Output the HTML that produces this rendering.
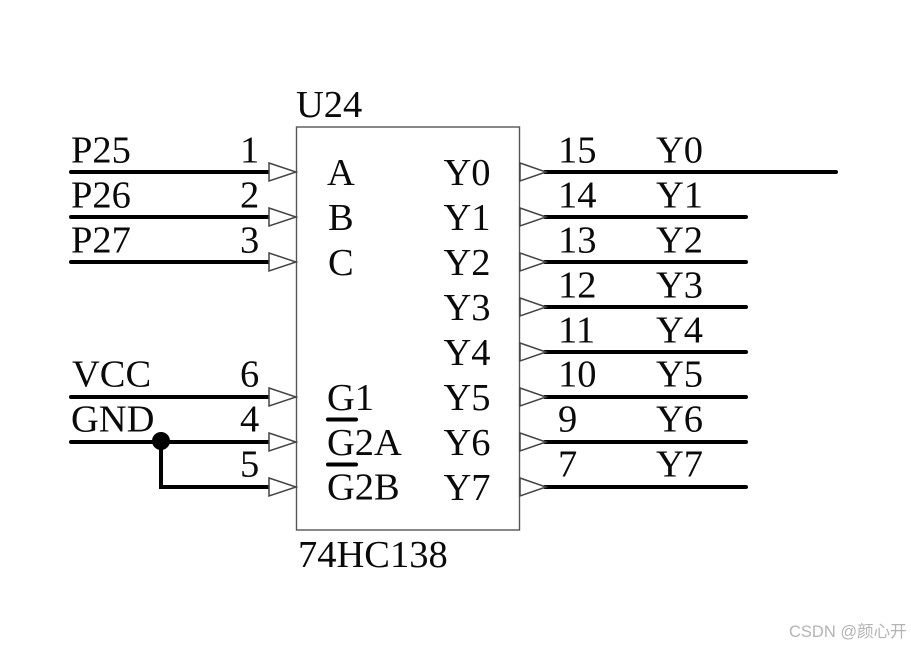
<!DOCTYPE html>
<html>
<head>
<meta charset="utf-8">
<style>
html,body{margin:0;padding:0;background:#fff;width:911px;height:647px;overflow:hidden}
svg{display:block}
text{font-family:"Liberation Serif",serif;font-size:38.5px;fill:#0a0a0a}
.w{stroke:#000;stroke-width:4;stroke-linecap:round;fill:none}
.t{fill:#fff;stroke:#444;stroke-width:1.5}
</style>
</head>
<body>
<svg width="911" height="647" viewBox="0 0 911 647" xmlns="http://www.w3.org/2000/svg">
<rect x="296.500" y="127" width="223" height="403" fill="#fff" stroke="#555" stroke-width="1.400"/>

<path class="w" d="M71 172H269M71 217H269M71 262H269M71 397H269M71 442H269M161 442V487H269"/>
<circle cx="161" cy="441" r="9" fill="#000"/>
<path class="w" d="M545 172H836M545 217H746M545 262H746M545 307H746M545 352H746M545 397H746M545 442H746M545 487H746"/>

<g class="t">
<path d="M269 163L296 172L269 181Z"/>
<path d="M269 208L296 217L269 226Z"/>
<path d="M269 253L296 262L269 271Z"/>
<path d="M269 388L296 397L269 406Z"/>
<path d="M269 433L296 442L269 451Z"/>
<path d="M269 478L296 487L269 496Z"/>
<path d="M520 163L546 172L520 181Z"/>
<path d="M520 208L546 217L520 226Z"/>
<path d="M520 253L546 262L520 271Z"/>
<path d="M520 298L546 307L520 316Z"/>
<path d="M520 343L546 352L520 361Z"/>
<path d="M520 388L546 397L520 406Z"/>
<path d="M520 433L546 442L520 451Z"/>
<path d="M520 478L546 487L520 496Z"/>
</g>

<path d="M328 419.500H356M328 464.500H356" stroke="#000" stroke-width="4" stroke-linecap="round"/>

<text x="296" y="117">U24</text>
<text x="298" y="567">74HC138</text>

<text x="71" y="162.500">P25</text>
<text x="71" y="207.500">P26</text>
<text x="71" y="252.500">P27</text>
<text x="72" y="386.500">VCC</text>
<text x="71" y="431.500">GND</text>

<text x="240" y="162.500">1</text>
<text x="240" y="207.500">2</text>
<text x="240" y="252.500">3</text>
<text x="240" y="386.500">6</text>
<text x="240" y="431.500">4</text>
<text x="240" y="476.500">5</text>

<text x="327" y="185">A</text>
<text x="328" y="230">B</text>
<text x="328" y="275">C</text>
<text x="327" y="410">G1</text>
<text x="327" y="455">G2A</text>
<text x="327" y="499.500">G2B</text>

<text x="443.500" y="185">Y0</text>
<text x="443.500" y="230">Y1</text>
<text x="443.500" y="275">Y2</text>
<text x="443.500" y="320">Y3</text>
<text x="443.500" y="365">Y4</text>
<text x="443.500" y="410">Y5</text>
<text x="443.500" y="455">Y6</text>
<text x="443.500" y="500">Y7</text>

<text x="558" y="162.500">15</text>
<text x="558" y="207.500">14</text>
<text x="558" y="252.500">13</text>
<text x="558" y="297.500">12</text>
<text x="558" y="342.500">11</text>
<text x="558" y="386.500">10</text>
<text x="558" y="431.500">9</text>
<text x="558" y="476.500">7</text>

<text x="656" y="162.500">Y0</text>
<text x="656" y="207.500">Y1</text>
<text x="656" y="252.500">Y2</text>
<text x="656" y="297.500">Y3</text>
<text x="656" y="342.500">Y4</text>
<text x="656" y="386.500">Y5</text>
<text x="656" y="431.500">Y6</text>
<text x="656" y="476.500">Y7</text>

<text x="789" y="637" style="font-family:'Liberation Sans','Noto Sans CJK SC',sans-serif;font-size:16.500px;fill:#b4b4b4">CSDN @颜心开</text>
</svg>
</body>
</html>
